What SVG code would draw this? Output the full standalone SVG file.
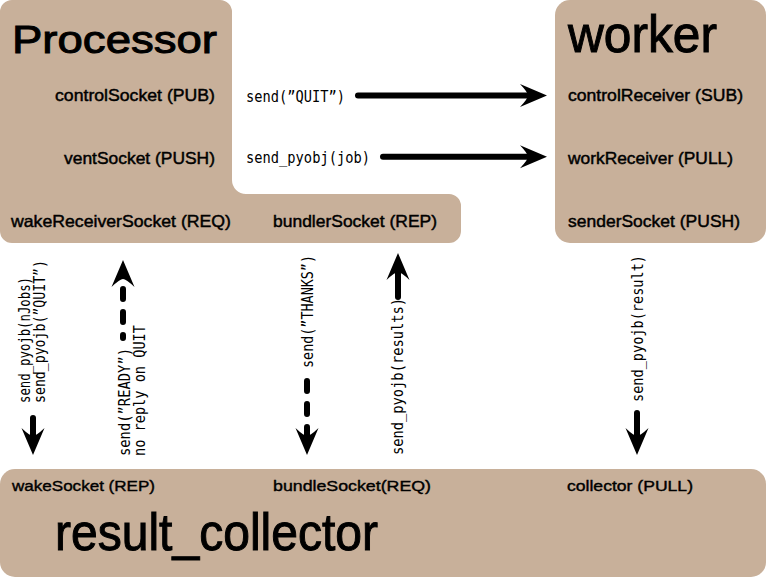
<svg xmlns="http://www.w3.org/2000/svg" width="766" height="577" viewBox="0 0 766 577">
<style>
.box{fill:#c8b09a}
.lbl{font-family:"Liberation Sans",Arial,sans-serif;font-size:16.5px;fill:#000;stroke:#000;stroke-width:0.45}
.lbl2{font-family:"Liberation Sans",Arial,sans-serif;font-size:15.5px;fill:#000;stroke:#000;stroke-width:0.4}
.title{font-family:"Liberation Sans",Arial,sans-serif;fill:#000;stroke:#000;stroke-width:1}
.code{font-family:"DejaVu Sans Mono","Liberation Mono",monospace;font-size:15px;fill:#000}
.arrow{fill:none;stroke:#000;stroke-width:6;stroke-linecap:round;marker-end:url(#ah)}
.dash{stroke-dasharray:10 13}
</style>
<defs>
<marker id="ah" viewBox="-30 -13 32 26" refX="-18" refY="0" markerWidth="32" markerHeight="26" markerUnits="userSpaceOnUse" orient="auto">
<path d="M0,0 L-27,-11.5 Q-19,-3 -19,0 Q-19,3 -27,11.5 Z" fill="#000"/>
</marker>
</defs>
<g id="processor">
<path class="box" d="M12,0 H220 A12,12 0 0 1 232,12 V180 A14,14 0 0 0 246,194 H449 A12,12 0 0 1 461,206 V231 A12,12 0 0 1 449,243 H12 A12,12 0 0 1 0,231 V12 A12,12 0 0 1 12,0 Z"/>
<text class="title" x="12" y="53" font-size="39" textLength="205" lengthAdjust="spacingAndGlyphs">Processor</text>
<text class="lbl" x="55" y="101" textLength="160" lengthAdjust="spacingAndGlyphs">controlSocket (PUB)</text>
<text class="lbl" x="64" y="164" textLength="151" lengthAdjust="spacingAndGlyphs">ventSocket (PUSH)</text>
<text class="lbl" x="11" y="227" textLength="220" lengthAdjust="spacingAndGlyphs">wakeReceiverSocket (REQ)</text>
<text class="lbl" x="273" y="227" textLength="164" lengthAdjust="spacingAndGlyphs">bundlerSocket (REP)</text>
</g>
<g id="worker">
<rect class="box" x="555" y="0" width="211" height="243" rx="15" ry="15"/>
<text class="title" x="568" y="52" font-size="52" textLength="149" lengthAdjust="spacingAndGlyphs">worker</text>
<text class="lbl" x="568" y="101" textLength="175" lengthAdjust="spacingAndGlyphs">controlReceiver (SUB)</text>
<text class="lbl" x="568" y="164" textLength="165" lengthAdjust="spacingAndGlyphs">workReceiver (PULL)</text>
<text class="lbl" x="568" y="227" textLength="172" lengthAdjust="spacingAndGlyphs">senderSocket (PUSH)</text>
</g>
<g id="result_collector">
<rect class="box" x="0" y="469" width="766" height="108" rx="15" ry="15"/>
<text class="lbl2" x="12" y="491" textLength="143" lengthAdjust="spacingAndGlyphs">wakeSocket (REP)</text>
<text class="lbl2" x="273" y="491" textLength="158" lengthAdjust="spacingAndGlyphs">bundleSocket(REQ)</text>
<text class="lbl2" x="567" y="491" textLength="126" lengthAdjust="spacingAndGlyphs">collector (PULL)</text>
<text class="title" x="55" y="550" font-size="52" textLength="323" lengthAdjust="spacingAndGlyphs">result_collector</text>
</g>
<g id="connectors">
<line class="arrow" x1="358" y1="95.5" x2="529" y2="95.5"/>
<text class="code" x="246" y="101.5" textLength="99" lengthAdjust="spacingAndGlyphs">send(”QUIT”)</text>
<line class="arrow" x1="383" y1="156.8" x2="529" y2="156.8"/>
<text class="code" x="246" y="163" textLength="124" lengthAdjust="spacingAndGlyphs">send_pyobj(job)</text>

<line class="arrow" x1="33" y1="418" x2="33" y2="437"/>
<text class="code" transform="translate(29.5,403) rotate(-90)" textLength="126" lengthAdjust="spacingAndGlyphs">send_pyojb(nJobs)</text>
<text class="code" transform="translate(44.5,403) rotate(-90)" textLength="143" lengthAdjust="spacingAndGlyphs">send_pyojb(”QUIT”)</text>

<line class="arrow dash" x1="123" y1="338" x2="123" y2="278" stroke-dashoffset="7"/>
<text class="code" transform="translate(130,456) rotate(-90)" textLength="108" lengthAdjust="spacingAndGlyphs">send(”READY”)</text>
<text class="code" transform="translate(145,456) rotate(-90)" textLength="131" lengthAdjust="spacingAndGlyphs">no reply on QUIT</text>

<line class="arrow dash" x1="307" y1="381" x2="307" y2="437"/>
<text class="code" transform="translate(313,368) rotate(-90)" textLength="113" lengthAdjust="spacingAndGlyphs">send(”THANKS”)</text>

<line class="arrow" x1="398" y1="297" x2="398" y2="271"/>
<text class="code" transform="translate(403,455) rotate(-90)" textLength="157" lengthAdjust="spacingAndGlyphs">send_pyojb(results)</text>

<line class="arrow" x1="637" y1="413" x2="637" y2="437"/>
<text class="code" transform="translate(643,402) rotate(-90)" textLength="147" lengthAdjust="spacingAndGlyphs">send_pyojb(result)</text>
</g>
</svg>
